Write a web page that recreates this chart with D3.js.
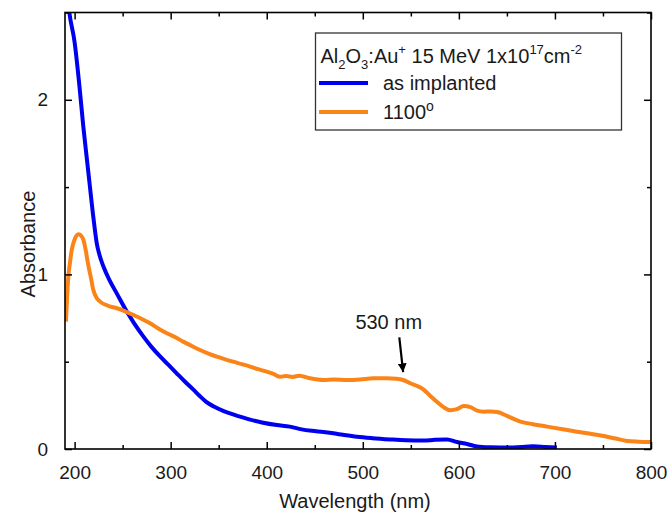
<!DOCTYPE html>
<html>
<head>
<meta charset="utf-8">
<script src="https://cdn.jsdelivr.net/npm/d3@7"></script>
<style>
  body { margin: 0; background: #fff; }
  svg { display: block; font-family: "Liberation Sans", Arial, sans-serif; }
</style>
</head>
<body>
<div id="chart"></div>
<script>
// absorbance spectra: [wavelength nm, absorbance]
var asImplanted = [
  [192, 2.62], [194.5, 2.5], [200, 2.33], [205, 2.08], [209, 1.85], [213, 1.65],
  [216, 1.50], [219, 1.35], [221, 1.26], [223, 1.18], [226, 1.11], [230, 1.045],
  [237, 0.96], [244, 0.89], [254, 0.79], [262, 0.72], [271.5, 0.645], [280, 0.585],
  [289, 0.53], [298, 0.48], [306, 0.435], [315, 0.385], [323.6, 0.34], [330, 0.305],
  [337, 0.27], [345, 0.243], [354.6, 0.218], [365, 0.198], [382.7, 0.168],
  [395, 0.152], [410.5, 0.137], [424, 0.128], [435, 0.114], [447, 0.104], [459, 0.098],
  [475, 0.085], [494, 0.07], [510, 0.062], [528.6, 0.055], [545, 0.05], [563, 0.048],
  [575, 0.053], [587.6, 0.055], [598, 0.04], [608.5, 0.029], [618.8, 0.015],
  [633, 0.01], [653, 0.008], [665, 0.012], [677, 0.016], [690, 0.012], [702, 0.008]
];
var annealed1100 = [
  [191, 0.73], [192, 0.85], [193.5, 0.99], [195, 1.06], [197, 1.14], [200, 1.20],
  [204, 1.23], [207, 1.22], [209, 1.20], [211.5, 1.14], [214, 1.06], [217, 0.98],
  [219.5, 0.91], [223, 0.865], [226.5, 0.844], [235, 0.82], [244, 0.806], [252, 0.79],
  [261, 0.768], [270, 0.745], [278.5, 0.72], [287, 0.69], [296, 0.663], [305, 0.64],
  [313, 0.615], [322, 0.59], [330.6, 0.567], [340, 0.545], [348, 0.529], [356, 0.515],
  [365, 0.50], [374, 0.486], [382.7, 0.472], [391, 0.457], [400, 0.443], [407, 0.43],
  [414, 0.414], [420, 0.418], [427, 0.413], [434, 0.42], [445, 0.405], [459, 0.395],
  [470, 0.398], [483.5, 0.395], [497, 0.398], [511, 0.405], [525, 0.405], [535, 0.402],
  [542, 0.395], [550, 0.375], [557, 0.36], [563, 0.342], [570, 0.305], [577, 0.271],
  [584, 0.24], [591, 0.222], [598, 0.228], [605, 0.246], [612, 0.24], [619, 0.22],
  [626, 0.214], [633, 0.215], [640, 0.212], [650, 0.19], [664, 0.157], [677, 0.142],
  [692, 0.128], [708, 0.113], [723, 0.099], [737, 0.087], [751, 0.074], [763, 0.06],
  [775, 0.046], [787, 0.042], [800, 0.04]
];
var seriesNames = ['as implanted', '1100\u00b0'];
var seriesColors = ['#0000f0', '#fb8418'];
var xMajorTicks = [200, 300, 400, 500, 600, 700, 800];
var xMinorTicks = [250, 350, 450, 550, 650, 750];
var yMajorTicks = [0, 1, 2];
var yMinorTicks = [0.5, 1.5, 2.5];
// arrow annotation: label position and arrow from/to in data units
var peakLabel = '530 nm';
var peakLabelAt = [527, 0.69];
var peakArrow = [[538, 0.64], [542, 0.44]];

var width = 671, height = 515;
var m = {left: 65, right: 20, top: 12.5, bottom: 66};
var w = width - m.left - m.right, h = height - m.top - m.bottom;

var x = d3.scaleLinear().domain([190, 800]).range([0, w]);
var y = d3.scaleLinear().domain([0, 2.5]).range([h, 0]);

var svg = d3.select('#chart').append('svg')
    .attr('width', width)
    .attr('height', height);

var defs = svg.append('defs');
defs.append('clipPath').attr('id', 'clip')
  .append('rect').attr('width', w).attr('height', h);
defs.append('marker')
    .attr('id', 'head')
    .attr('viewBox', '0 0 10 10')
    .attr('refX', 10).attr('refY', 5)
    .attr('markerWidth', 4).attr('markerHeight', 6)
    .attr('markerUnits', 'strokeWidth')
    .attr('orient', 'auto')
  .append('path')
    .attr('d', 'M0,0L10,5L0,10Z')
    .attr('fill', '#000');

var g = svg.append('g').attr('transform', 'translate(' + m.left + ',' + m.top + ')');

var line = d3.line()
    .x(function(d) { return x(d[0]); })
    .y(function(d) { return y(d[1]); })
    .curve(d3.curveMonotoneX);

var curves = g.append('g').attr('clip-path', 'url(#clip)');
[asImplanted, annealed1100].forEach(function(s, i) {
  curves.append('path')
    .datum(s)
    .attr('d', line)
    .attr('fill', 'none')
    .attr('stroke', seriesColors[i])
    .attr('stroke-width', 4)
    .attr('stroke-linejoin', 'round');
});

// axes: ticks pointing inward on all four sides
function styleAxis(sel) {
  sel.select('.domain').remove();
  sel.selectAll('.tick line').attr('stroke', '#000').attr('stroke-width', 1.5);
  sel.selectAll('.tick text').attr('fill', '#1a1a1a').style('font-size', '19px');
}

var xb = g.append('g').attr('transform', 'translate(0,' + h + ')')
  .call(d3.axisBottom(x).tickValues(xMajorTicks).tickSize(-7).tickPadding(17).tickFormat(d3.format('d')));
styleAxis(xb);
var xbm = g.append('g').attr('transform', 'translate(0,' + h + ')')
  .call(d3.axisBottom(x).tickValues(xMinorTicks).tickSize(-4).tickFormat(''));
styleAxis(xbm);
var xt = g.append('g')
  .call(d3.axisTop(x).tickValues(xMajorTicks).tickSize(-7).tickFormat(''));
styleAxis(xt);
var xtm = g.append('g')
  .call(d3.axisTop(x).tickValues(xMinorTicks).tickSize(-4).tickFormat(''));
styleAxis(xtm);

var yl = g.append('g')
  .call(d3.axisLeft(y).tickValues(yMajorTicks).tickSize(-7).tickPadding(17).tickFormat(d3.format('d')));
styleAxis(yl);
var ylm = g.append('g')
  .call(d3.axisLeft(y).tickValues(yMinorTicks).tickSize(-4).tickFormat(''));
styleAxis(ylm);
var yr = g.append('g').attr('transform', 'translate(' + w + ',0)')
  .call(d3.axisRight(y).tickValues(yMajorTicks).tickSize(-7).tickFormat(''));
styleAxis(yr);
var yrm = g.append('g').attr('transform', 'translate(' + w + ',0)')
  .call(d3.axisRight(y).tickValues(yMinorTicks).tickSize(-4).tickFormat(''));
styleAxis(yrm);

g.append('rect')
    .attr('width', w).attr('height', h)
    .attr('fill', 'none')
    .attr('stroke', '#000')
    .attr('stroke-width', 1.6);

// axis titles
svg.append('text')
    .attr('x', m.left + w / 2 - 3)
    .attr('y', 508)
    .attr('text-anchor', 'middle')
    .style('font-size', '20px')
    .attr('fill', '#1a1a1a')
    .text('Wavelength (nm)');

svg.append('text')
    .attr('transform', 'translate(35,' + 244 + ') rotate(-90)')
    .attr('text-anchor', 'middle')
    .style('font-size', '20px')
    .attr('fill', '#1a1a1a')
    .text('Absorbance');

// 530 nm annotation
g.append('text')
    .attr('x', x(peakLabelAt[0]))
    .attr('y', y(peakLabelAt[1]))
    .attr('text-anchor', 'middle')
    .style('font-size', '20px')
    .attr('fill', '#1a1a1a')
    .text(peakLabel);
g.append('line')
    .attr('x1', x(peakArrow[0][0])).attr('y1', y(peakArrow[0][1]))
    .attr('x2', x(peakArrow[1][0])).attr('y2', y(peakArrow[1][1]))
    .attr('stroke', '#000')
    .attr('stroke-width', 2.2)
    .attr('marker-end', 'url(#head)');

// legend
var lg = svg.append('g').attr('transform', 'translate(315.5,33)');
lg.append('rect')
    .attr('width', 306).attr('height', 97)
    .attr('fill', '#fff')
    .attr('stroke', '#333')
    .attr('stroke-width', 1.3);

var title = lg.append('text')
    .attr('x', 5).attr('y', 30)
    .style('font-size', '20px')
    .attr('fill', '#1a1a1a');
title.append('tspan').text('Al');
title.append('tspan').attr('dy', 6).style('font-size', '13px').text('2');
title.append('tspan').attr('dy', -6).text('O');
title.append('tspan').attr('dy', 6).style('font-size', '13px').text('3');
title.append('tspan').attr('dy', -6).text(':Au');
title.append('tspan').attr('dy', -9).style('font-size', '13px').text('+');
title.append('tspan').attr('dy', 9).text(' 15 MeV 1x10');
title.append('tspan').attr('dy', -9).style('font-size', '13px').text('17');
title.append('tspan').attr('dy', 9).text('cm');
title.append('tspan').attr('dy', -9).style('font-size', '13px').text('-2');

seriesNames.forEach(function(name, i) {
  var ry = 50 + i * 29;
  lg.append('line')
    .attr('x1', 3.5).attr('x2', 52.5)
    .attr('y1', ry).attr('y2', ry)
    .attr('stroke', seriesColors[i])
    .attr('stroke-width', 4);
  var t = lg.append('text')
    .attr('x', 67.5).attr('y', ry + 7)
    .style('font-size', '20px')
    .attr('fill', '#1a1a1a');
  if (name.slice(-1) === '\u00b0') {
    t.append('tspan').text(name.slice(0, -1));
    t.append('tspan').attr('dy', -8).style('font-size', '14px').text('o');
  } else {
    t.text(name);
  }
});
</script>
</body>
</html>
